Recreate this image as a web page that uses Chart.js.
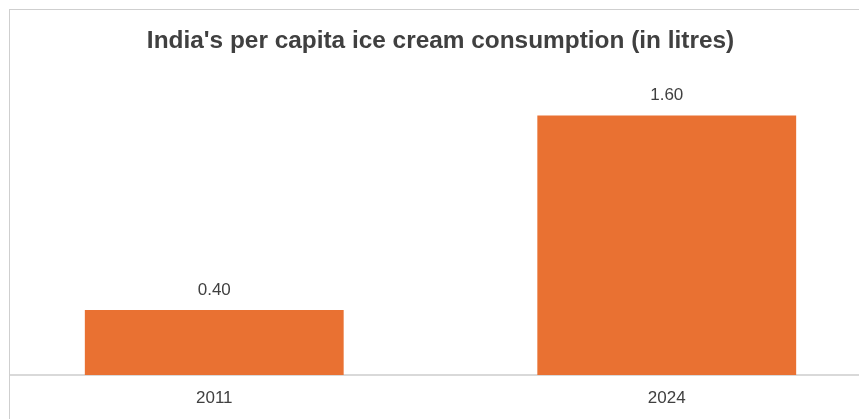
<!DOCTYPE html>
<html>
<head>
<meta charset="utf-8">
<script src="https://cdn.jsdelivr.net/npm/chart.js@4"></script>
<style>
  html, body { margin: 0; padding: 0; background: #fff; overflow: hidden; }
  #frame {
    position: absolute; left: 9px; top: 9px; width: 860px; height: 420px;
    border-top: 1px solid #cfcfcf; border-left: 1px solid #cfcfcf;
    overflow: hidden;
  }
  #iceChart { position: absolute; left: -22px; top: 0; }
</style>
</head>
<body>
<div id="frame">
  <canvas id="iceChart" width="905" height="425"></canvas>
</div>
<script>
const years = ['2011', '2024'];
const litresPerCapita = [0.40, 1.60];
const chartTitle = "India's per capita ice cream consumption (in litres)";

const FONT = "'Liberation Sans', Arial, sans-serif";
const TEXT = '#404040';

// draws the value above each bar
const valueLabels = {
  id: 'valueLabels',
  afterDatasetsDraw(chart) {
    const ctx = chart.ctx;
    const meta = chart.getDatasetMeta(0);
    ctx.save();
    ctx.font = '17px ' + FONT;
    ctx.fillStyle = TEXT;
    ctx.textAlign = 'center';
    ctx.textBaseline = 'middle';
    meta.data.forEach((bar, i) => {
      ctx.fillText(litresPerCapita[i].toFixed(2), bar.x, bar.y - 20);
    });
    ctx.restore();
  }
};

const ctx = document.getElementById('iceChart').getContext('2d');
new Chart(ctx, {
  type: 'bar',
  data: {
    labels: years,
    datasets: [{
      data: litresPerCapita,
      backgroundColor: '#E97132',
      categoryPercentage: 1,
      barPercentage: 0.572
    }]
  },
  options: {
    responsive: false,
    animation: false,
    layout: { padding: { left: 0, right: 0, top: 0, bottom: 13.6 } },
    plugins: {
      legend: { display: false },
      tooltip: { enabled: false },
      title: {
        display: true,
        text: chartTitle,
        color: TEXT,
        font: { family: FONT, size: 24.4, weight: 'bold', lineHeight: 1.2 },
        padding: { top: 16.6, bottom: 27.1 }
      }
    },
    scales: {
      x: {
        grid: { display: false, drawTicks: false },
        border: { display: true, color: '#d9d9d9', width: 2 },
        ticks: { color: TEXT, font: { family: FONT, size: 17 }, padding: 13 }
      },
      y: {
        display: false,
        min: 0,
        max: 1.8
      }
    }
  },
  plugins: [valueLabels]
});
</script>
</body>
</html>
